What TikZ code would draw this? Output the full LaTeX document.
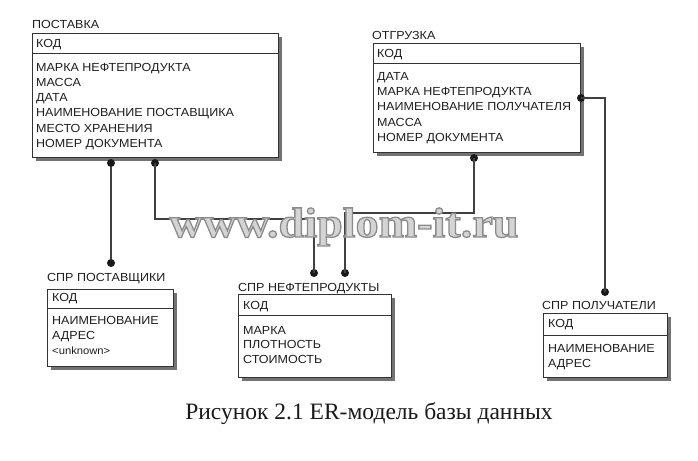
\documentclass[tikz,border=0pt]{standalone}
\usepackage{fontspec}
\setmainfont{Liberation Sans}
\newfontfamily\erfont[FakeStretch=1.07]{Liberation Sans}
\newfontfamily\capfont{Liberation Serif}
\newfontfamily\wmfont[FakeStretch=1.1]{Liberation Serif}
\usetikzlibrary{shadows,calc}
\tikzset{
  ent/.style={draw=black!80, line width=1.1pt, fill=white, anchor=north west, inner sep=0pt,
    drop shadow={shadow xshift=3pt, shadow yshift=-3pt, fill=black!55, opacity=1}},
  divline/.style={draw=black!80, line width=0.9pt},
  txt/.style={font=\erfont\fontsize{11.7}{14}\selectfont, text=black!88, anchor=west,
    inner sep=0pt, text height=8.4pt, text depth=0pt},
  small/.style={txt, font=\erfont\fontsize{10.5}{13}\selectfont},
  dot/.style={circle, fill=black!90, inner sep=0pt, minimum size=8pt},
  conn/.style={draw=black!75, line width=1.3pt},
  wm/.style={font=\wmfont\bfseries\fontsize{42}{48}\selectfont, anchor=base, inner sep=0pt}
}
\begin{document}
\begin{tikzpicture}[x=1pt,y=-1pt]
\useasboundingbox (0,0) rectangle (698,460);
\fill[white] (0,0) rectangle (698,460);

% ---------- ПОСТАВКА
\node[txt] (postT) at (32,24) {ПОСТАВКА};
\node[ent, minimum width=246pt, minimum height=124pt] (post) at (32,33) {};
\draw[divline] ([yshift=-20pt]post.north west) -- ([yshift=-20pt]post.north east);
\node[txt] (postK) at (36,43) {КОД};
\foreach \t [count=\i] in {МАРКА НЕФТЕПРОДУКТА, МАССА, ДАТА, НАИМЕНОВАНИЕ ПОСТАВЩИКА, МЕСТО ХРАНЕНИЯ, НОМЕР ДОКУМЕНТА}
  \node[txt] (postA\i) at (36,{67+15.2*(\i-1)}) {\t};

% ---------- ОТГРУЗКА
\node[txt] (otgT) at (372,35) {ОТГРУЗКА};
\node[ent, minimum width=207pt, minimum height=109pt] (otg) at (373,43) {};
\draw[divline] ([yshift=-20pt]otg.north west) -- ([yshift=-20pt]otg.north east);
\node[txt] (otgK) at (377,53) {КОД};
\foreach \t [count=\i] in {ДАТА, МАРКА НЕФТЕПРОДУКТА, НАИМЕНОВАНИЕ ПОЛУЧАТЕЛЯ, МАССА, НОМЕР ДОКУМЕНТА}
  \node[txt] (otgA\i) at (377,{76.5+15.1*(\i-1)}) {\t};

% ---------- СПР ПОСТАВЩИКИ
\node[txt] (spT) at (47,277) {СПР ПОСТАВЩИКИ};
\node[ent, minimum width=126pt, minimum height=77pt] (sp) at (47,289) {};
\draw[divline] ([yshift=-19pt]sp.north west) -- ([yshift=-19pt]sp.north east);
\node[txt] (spK) at (52,297) {КОД};
\node[txt] (spA1) at (52,320) {НАИМЕНОВАНИЕ};
\node[txt] (spA2) at (52,335) {АДРЕС};
\node[small] (spA3) at (52,350) {<unknown>};

% ---------- СПР НЕФТЕПРОДУКТЫ
\node[txt] (snT) at (238,287) {СПР НЕФТЕПРОДУКТЫ};
\node[ent, minimum width=153pt, minimum height=83pt] (sn) at (238,294) {};
\draw[divline] ([yshift=-21pt]sn.north west) -- ([yshift=-21pt]sn.north east);
\node[txt] (snK) at (243,305) {КОД};
\node[txt] (snA1) at (243,330) {МАРКА};
\node[txt] (snA2) at (243,344.5) {ПЛОТНОСТЬ};
\node[txt] (snA3) at (243,359) {СТОИМОСТЬ};

% ---------- СПР ПОЛУЧАТЕЛИ
\node[txt] (spolT) at (542,305) {СПР ПОЛУЧАТЕЛИ};
\node[ent, minimum width=124pt, minimum height=64pt] (spol) at (543,313) {};
\draw[divline] ([yshift=-22pt]spol.north west) -- ([yshift=-22pt]spol.north east);
\node[txt] (spolK) at (548,323.5) {КОД};
\node[txt] (spolA1) at (548,348) {НАИМЕНОВАНИЕ};
\node[txt] (spolA2) at (548,363) {АДРЕС};

% ---------- connectors
\node[dot] (d1) at (111,163) {};
\node[dot] (d2) at (111,263) {};
\node[dot] (d3) at (155,163) {};
\node[dot] (d4) at (314,273) {};
\node[dot] (d5) at (474,158) {};
\node[dot] (d6) at (345,273) {};
\node[dot] (d7) at (581,98) {};
\node[dot] (d8) at (605,292) {};
\coordinate (j1) at (314,219);
\coordinate (j2) at (345,213);
\draw[conn] (d1) -- (d2);
\draw[conn] (d3.center) |- (j1) -- (d4.center);
\draw[conn] (d5.center) |- (j2) -- (d6.center);
\draw[conn] (d7.center) -| (d8.center);

% ---------- watermark (filled light grey, stroked darker grey)
\node[wm, text=black!17] (wm) at (344,237)
  {\special{pdf:literal direct 0.55 0.55 0.55 RG 1.3 w 2 Tr}www.diplom-it.ru\special{pdf:literal direct 0 Tr}};

% ---------- caption
\node[font=\capfont\fontsize{23.5}{28}\selectfont, anchor=base, inner sep=0pt, text=black!90] (cap) at (369,419) {Рисунок 2.1 ER-модель базы данных};
\end{tikzpicture}
\end{document}
